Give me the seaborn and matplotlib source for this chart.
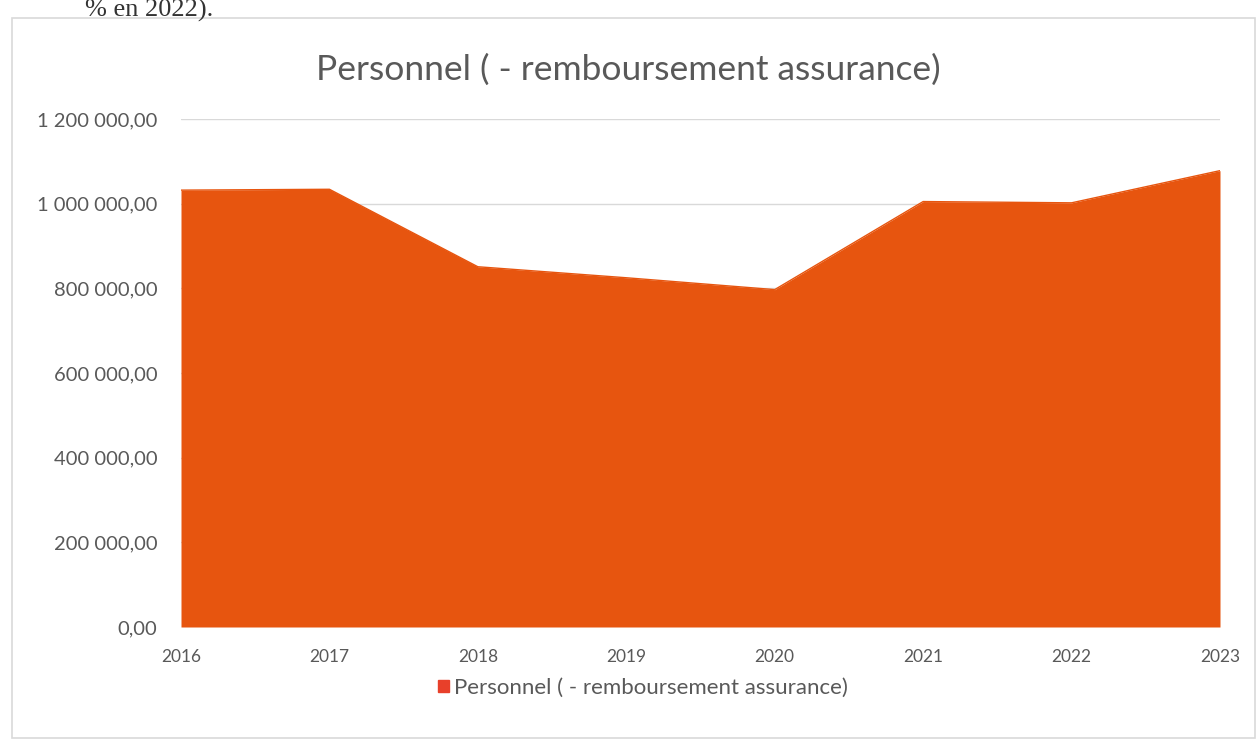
import matplotlib
matplotlib.use("Agg")
import matplotlib.pyplot as plt
import matplotlib.patches as mpatches
import pandas as pd
import seaborn as sns

# data
years = [2016, 2017, 2018, 2019, 2020, 2021, 2022, 2023]
personnel = [1032000, 1034000, 851000, 825000, 797000, 1005000, 1002000, 1078000]
yticks = [0, 200000, 400000, 600000, 800000, 1000000, 1200000]

serieName = "Personnel ( - remboursement assurance)"
fillColor = "#E7550F"
textColor = "#595959"

df = pd.DataFrame({"Annee": years, "Valeur": personnel})

sns.set_theme(style="white")
plt.rcParams['font.family'] = ['Lato', 'DejaVu Sans']

fig = plt.figure(figsize=(12.6, 7.4), dpi=100)
fig.patch.set_facecolor("white")

# chart frame from the scan
fig.patches.append(mpatches.Rectangle((12 / 1260, 2 / 740), 1243 / 1260, 720 / 740,
                                      transform=fig.transFigure, fill=False,
                                      edgecolor="#d9d9d9", linewidth=1.2))
# leftover text from the document above the chart
fig.text(85 / 1260, 1 - 17 / 740, "% en 2022).", family="Liberation Serif",
         fontsize=19, color="#333333", ha="left", va="baseline")

ax = fig.add_axes([181 / 1260, 1 - 627 / 740, 1039 / 1260, 508 / 740])
ax.set_axisbelow(True)
for y in yticks[1:]:
    ax.axhline(y, color="#d9d9d9", linewidth=1, zorder=0)

sns.lineplot(data=df, x="Annee", y="Valeur", color=fillColor, linewidth=1, ax=ax, zorder=2)
ax.fill_between(df["Annee"], 0, df["Valeur"], color=fillColor, linewidth=0, zorder=2)

ax.set_xlim(years[0], years[-1])
ax.set_ylim(0, 1200000)
ax.set_xticks(years)
ax.set_xticklabels([str(y) for y in years])
ax.set_yticks(yticks)
ax.set_yticklabels([f"{v:,.2f}".replace(",", " ").replace(".", ",") for v in yticks])
ax.tick_params(axis="x", labelsize=12.5, colors=textColor, length=0, pad=16)
ax.tick_params(axis="y", labelsize=14.5, colors=textColor, length=0, pad=17)
ax.set_xlabel("")
ax.set_ylabel("")
for s in ax.spines.values():
    s.set_visible(False)

fig.text(628 / 1260, 1 - 70 / 740, serieName, fontsize=25.5, color=textColor,
         ha="center", va="center")

handle = mpatches.Patch(color="#E8402A", label=serieName)
fig.legend(handles=[handle], loc="center", bbox_to_anchor=(643 / 1260, 1 - 688 / 740),
           frameon=False, fontsize=16, labelcolor=textColor, handlelength=0.5,
           handleheight=0.5, handletextpad=0.2)

fig.savefig("out.png", dpi=100)
plt.close(fig)
